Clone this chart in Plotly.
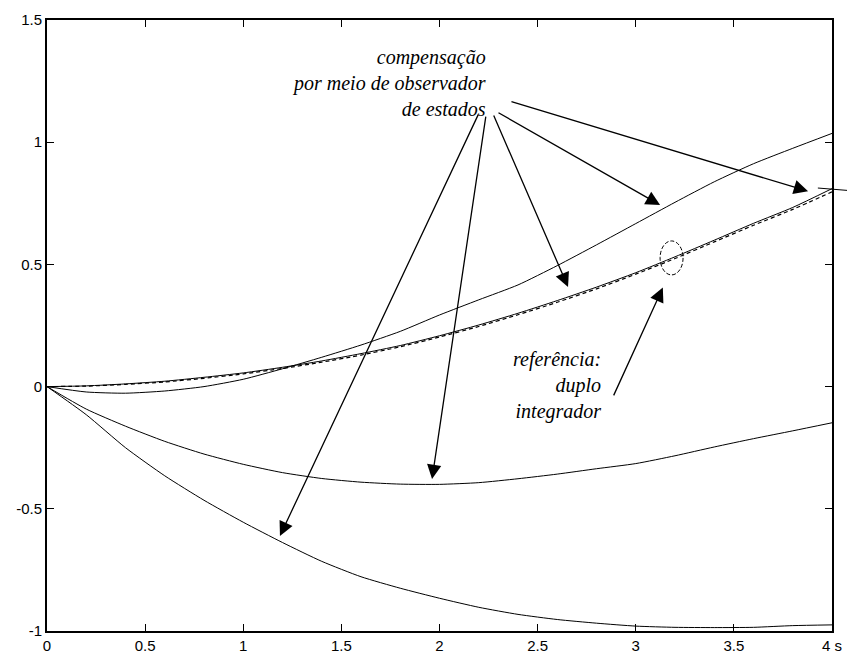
import plotly.graph_objects as go

# time axis (s)
t = [0.0, 0.2, 0.4, 0.6, 0.8, 1.0, 1.2, 1.4, 1.6, 1.8, 2.0,
     2.2, 2.4, 2.6, 2.8, 3.0, 3.2, 3.4, 3.6, 3.8, 4.0]

# reference response: double integrator (dashed)
ref_duplo_integrador = [0.000, 0.002, 0.009, 0.019, 0.034, 0.052, 0.074, 0.100, 0.129, 0.163, 0.203,
                        0.246, 0.294, 0.345, 0.400, 0.460, 0.524, 0.592, 0.660, 0.725, 0.797]

# observer-based compensation responses (solid)
obs_proximo = [0.000, 0.003, 0.011, 0.022, 0.038, 0.056, 0.079, 0.105, 0.135, 0.168, 0.208,
               0.252, 0.300, 0.352, 0.407, 0.466, 0.531, 0.599, 0.668, 0.733, 0.810]
obs_superior = [0.000, -0.022, -0.027, -0.018, 0.000, 0.030, 0.073, 0.120, 0.170, 0.226, 0.293,
                0.355, 0.416, 0.495, 0.580, 0.667, 0.754, 0.838, 0.912, 0.975, 1.036]
obs_medio = [0.000, -0.092, -0.162, -0.224, -0.276, -0.318, -0.352, -0.376, -0.391, -0.399, -0.400,
             -0.393, -0.377, -0.358, -0.336, -0.315, -0.283, -0.247, -0.213, -0.181, -0.148]
obs_inferior = [0.000, -0.115, -0.250, -0.365, -0.465, -0.555, -0.638, -0.715, -0.778, -0.825, -0.866,
                -0.903, -0.932, -0.953, -0.968, -0.980, -0.985, -0.986, -0.985, -0.978, -0.975]

x_ticks = [0, 0.5, 1, 1.5, 2, 2.5, 3, 3.5, 4]
x_tick_labels = ["0", "0.5", "1", "1.5", "2", "2.5", "3", "3.5", "4 s"]
y_ticks = [-1, -0.5, 0, 0.5, 1, 1.5]
y_tick_labels = ["-1", "-0.5", "0", "0.5", "1", "1.5"]

# arrows: (tail_x, tail_y, head_x, head_y)
setas_observador = [
    (2.359, 1.168, 3.878, 0.799),
    (2.293, 1.124, 3.124, 0.743),
    (2.273, 1.115, 2.655, 0.408),
    (2.237, 1.111, 1.962, -0.378),
    (2.201, 1.119, 1.187, -0.611),
]
seta_referencia = (2.884, -0.042, 3.138, 0.405)

fig = go.Figure()

line_style = dict(color="black", width=1, shape="spline", smoothing=0.6)
for ys in (obs_superior, obs_proximo, obs_medio, obs_inferior):
    fig.add_trace(go.Scatter(x=t, y=ys, mode="lines", line=line_style,
                             showlegend=False, hoverinfo="skip"))
fig.add_trace(go.Scatter(x=t, y=ref_duplo_integrador, mode="lines",
                         line=dict(color="black", width=1.2, dash="4px,3px",
                                   shape="spline", smoothing=0.6),
                         showlegend=False, hoverinfo="skip"))

annotations = []
for ax_, ay_, hx, hy in setas_observador + [seta_referencia]:
    annotations.append(dict(
        x=hx, y=hy, ax=ax_, ay=ay_, xref="x", yref="y", axref="x", ayref="y",
        showarrow=True, arrowhead=2, arrowsize=2.2, arrowwidth=1.3,
        arrowcolor="black", standoff=0, text=""))

serif = dict(family="Liberation Serif, Times New Roman, serif", size=20, color="black")
annotations.append(dict(
    x=2.247, y=1.242, xref="x", yref="y", showarrow=False,
    xanchor="right", yanchor="middle", align="right",
    text="<i>compensação<br>por meio de observador<br>de estados</i>", font=serif))
annotations.append(dict(
    x=2.833, y=0.003, xref="x", yref="y", showarrow=False,
    xanchor="right", yanchor="middle", align="right",
    text="<i>referência:<br>duplo<br>integrador</i>", font=serif))
fig.update_layout(annotations=annotations)

# dashed ellipse marking the reference curve
fig.add_shape(type="circle", xref="x", yref="y", x0=3.124, x1=3.241, y0=0.457, y1=0.596,
              line=dict(color="black", width=1, dash="4px,2px"))
# short stroke crossing the right border
fig.add_shape(type="line", xref="paper", yref="paper", x0=0.982, y0=0.725, x1=1.03, y1=0.720,
              line=dict(color="black", width=1))

axis_common = dict(showgrid=False, zeroline=False, showline=True, linecolor="black",
                   linewidth=2, mirror="allticks", ticks="inside", ticklen=7,
                   tickcolor="black", tickwidth=1, automargin=False,
                   tickfont=dict(family="Liberation Sans, Arial, sans-serif", size=15, color="black"))
fig.update_xaxes(range=[0, 4], tickvals=x_ticks, ticktext=x_tick_labels, **axis_common)
fig.update_yaxes(range=[-1, 1.5], tickvals=y_ticks, ticktext=y_tick_labels, **axis_common)

fig.update_layout(width=847, height=655, margin=dict(l=47, r=15, t=20, b=24),
                  plot_bgcolor="white", paper_bgcolor="white")

fig.write_html("out.html")
